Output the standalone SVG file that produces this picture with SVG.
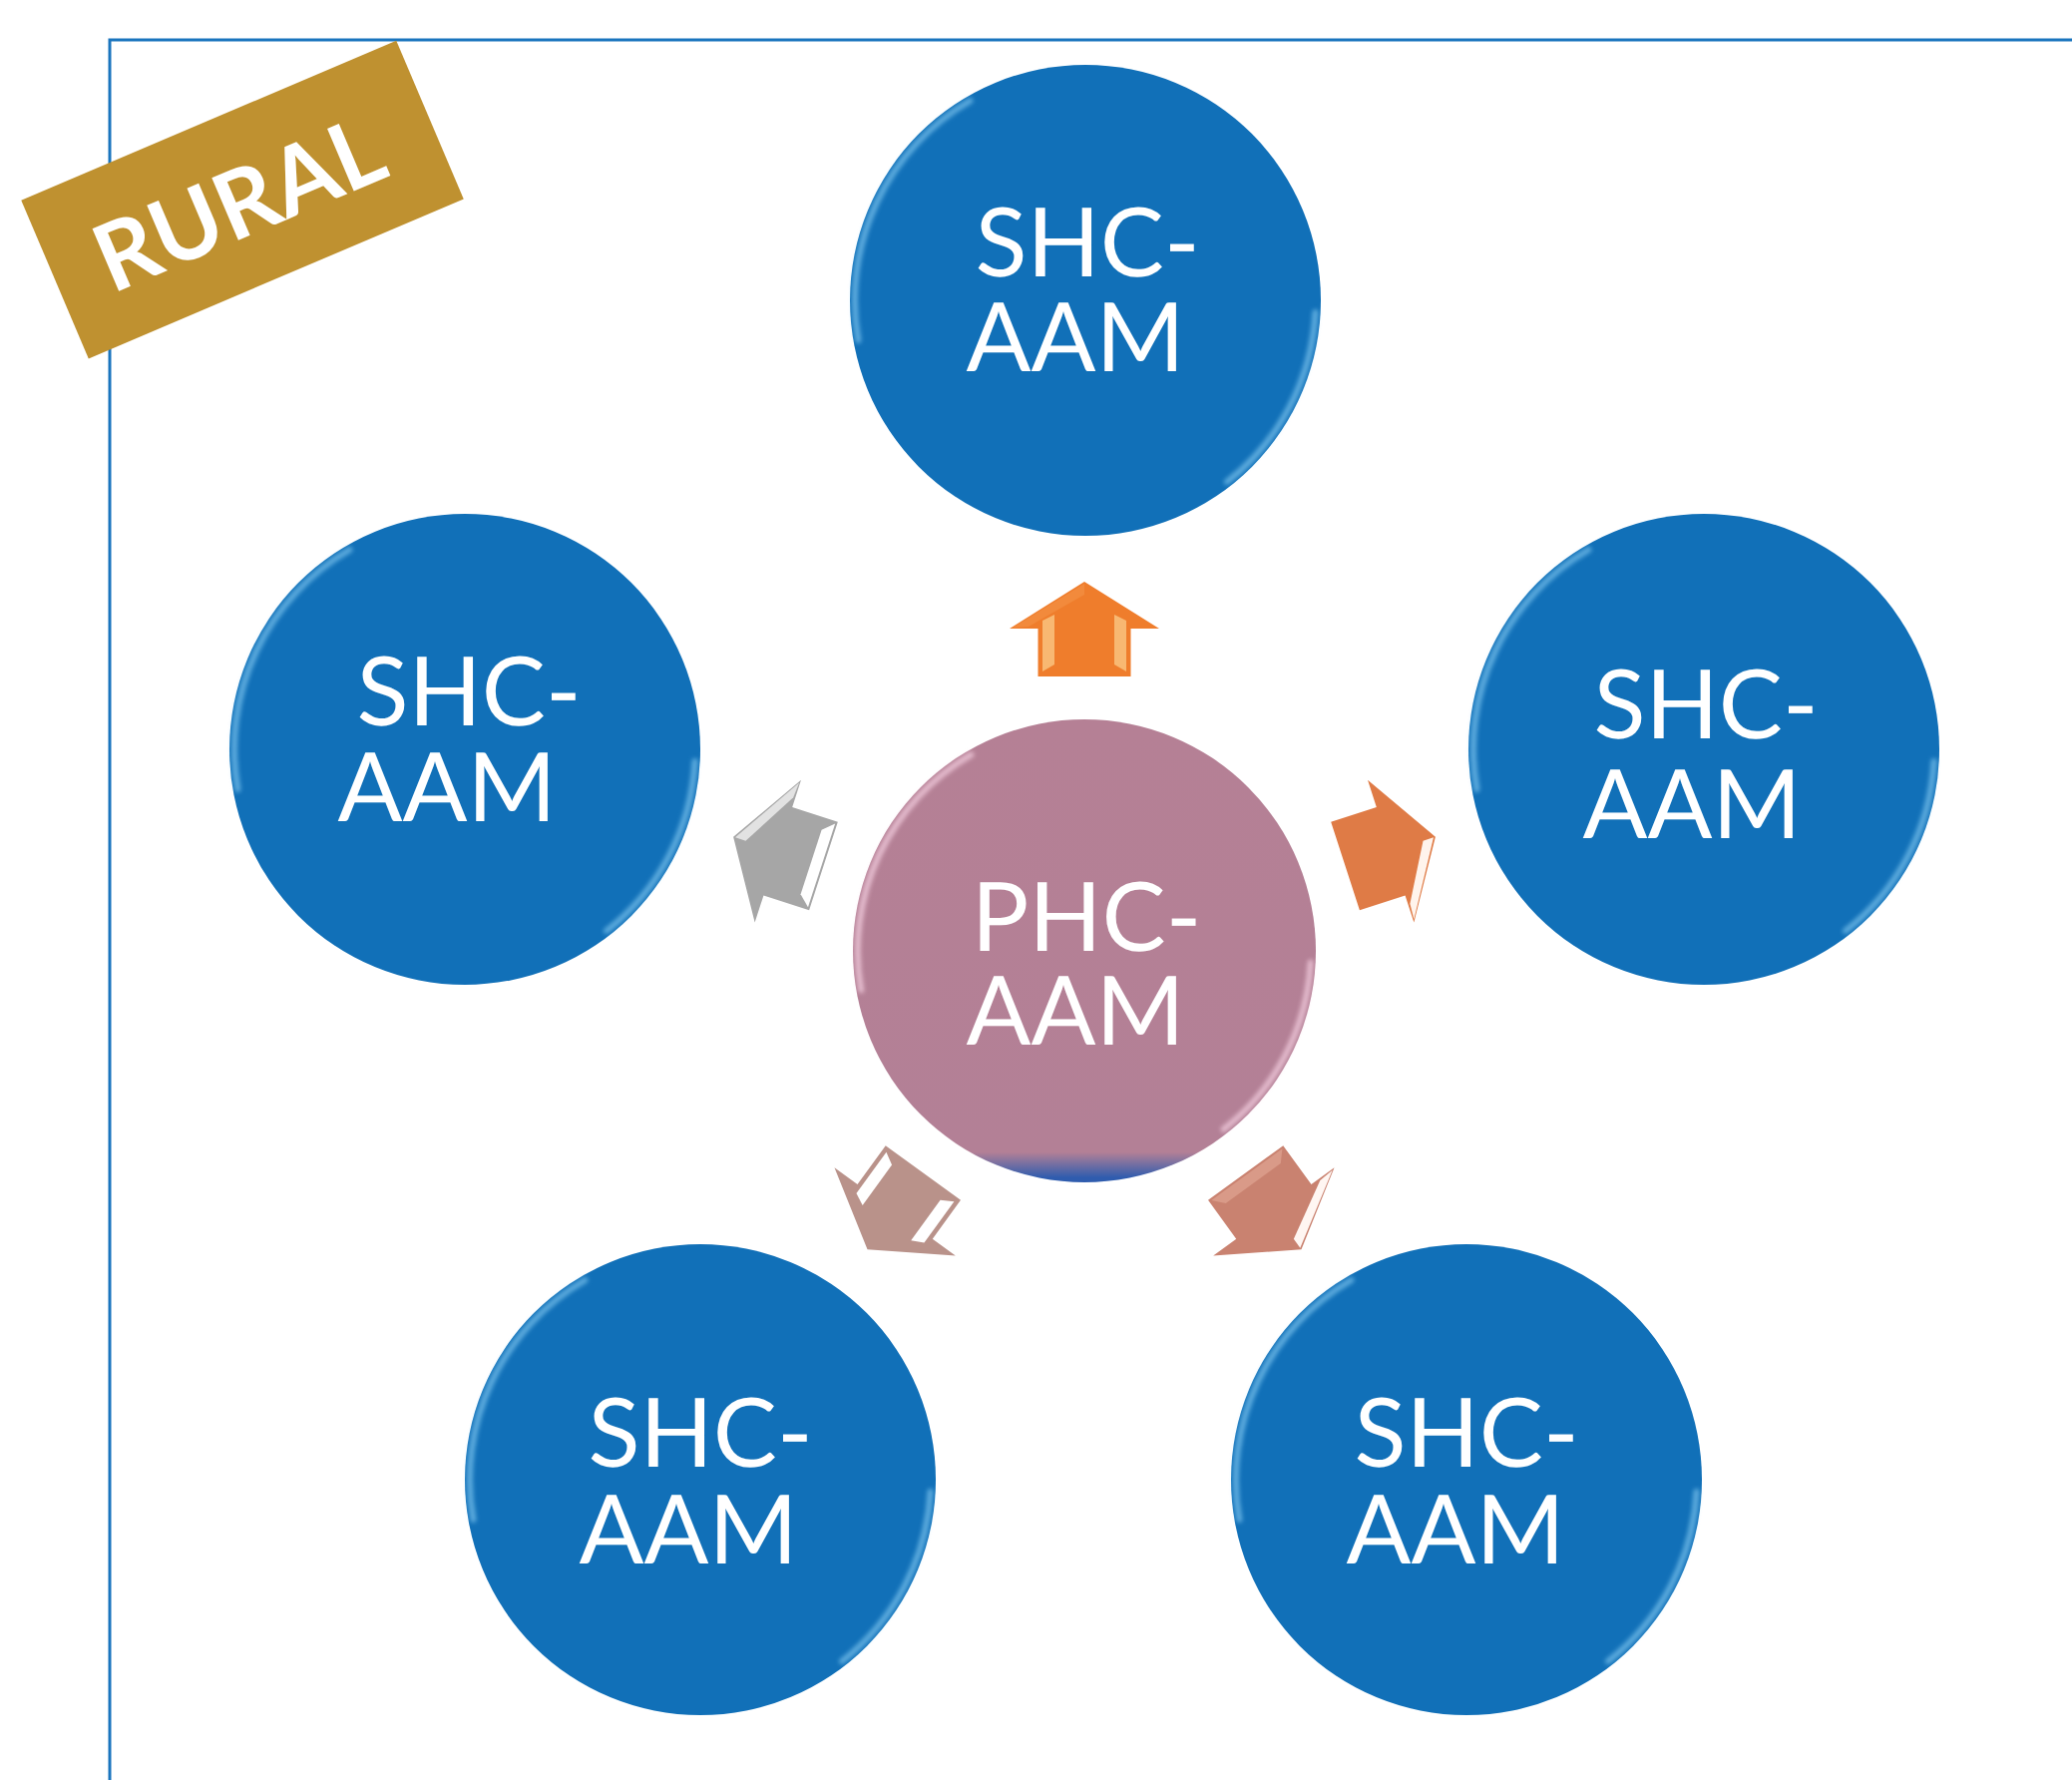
<svg xmlns="http://www.w3.org/2000/svg" xmlns:xlink="http://www.w3.org/1999/xlink" width="2077" height="1784" viewBox="0 0 2077 1784">
  <defs>
    <style>
      .frame { fill: none; stroke: #1A75BE; stroke-width: 3; }
      .shc { fill: #1170B8; }
      .phc { fill: url(#phcFill); }
      .lbl { font-family: Lato, "Open Sans", "Liberation Sans", sans-serif; font-size: 96px; fill: #FFFFFF; text-anchor: middle; text-rendering: geometricPrecision; font-kerning: none; }
      .rural { font-family: Lato, "Open Sans", "Liberation Sans", sans-serif; font-weight: bold; font-size: 94px; fill: #FFFFFF; text-anchor: middle; text-rendering: geometricPrecision; font-kerning: none; }
      .hlB { fill: none; stroke: #8FD3F7; stroke-width: 6; stroke-linecap: round; opacity: 0.6; filter: url(#soft); }
      .hlP { fill: none; stroke: #F4CFE0; stroke-width: 6; stroke-linecap: round; opacity: 0.75; filter: url(#soft); }
    </style>
    <linearGradient id="phcFill" x1="0" y1="0" x2="0" y2="1">
      <stop offset="0" stop-color="#B58095"/>
      <stop offset="0.935" stop-color="#B38096"/>
      <stop offset="0.99" stop-color="#2F5CAE"/>
    </linearGradient>
    <filter id="soft" x="-20%" y="-20%" width="140%" height="140%">
      <feGaussianBlur stdDeviation="2"/>
    </filter>
    <path id="arrow" d="M0,-370 L75,-323 L46.5,-323 L46.5,-275 L-46.5,-275 L-46.5,-323 L-75,-323 Z"/>
    <path id="bvShaftL" d="M-42,-331 L-30,-337 L-30,-287 L-42,-280 Z"/>
    <path id="bvShaftR" d="M42,-331 L30,-337 L30,-287 L42,-280 Z"/>
    <path id="bvHeadR" d="M0,-368 L72,-324 L56,-325 L0,-357 Z"/>
    <path id="bvHeadL" d="M0,-368 L-72,-324 L-56,-325 L0,-357 Z"/>
    <path id="bvBase" d="M-44,-277 L44,-277 L34,-288 L-34,-288 Z"/>
    <path id="arcUL" d="M-227.6,40.1 A231,231 0 0 1 -115.5,-200"/>
    <path id="arcLR" d="M230.6,12 A231,231 0 0 1 142,182"/>
  </defs>

  <rect x="0" y="0" width="2077" height="1784" fill="#FFFFFF"/>

  <g id="frame">
    <path class="frame" d="M110,1784 L110,40 L2077,40"/>
  </g>

  <g id="connectors">
    <g id="arrow-top" transform="translate(1087,953)">
      <use xlink:href="#arrow" fill="#EF7D2C"/>
      <use xlink:href="#bvHeadL" fill="#F28A3C"/>
      <use xlink:href="#bvShaftL" fill="#F8B872"/>
      <use xlink:href="#bvShaftR" fill="#F8B872"/>
    </g>
    <g id="arrow-right" transform="translate(1087,953) rotate(72)">
      <use xlink:href="#arrow" fill="#DF7B46"/>
      <use xlink:href="#bvHeadR" fill="#FFF4EC"/>
    </g>
    <g id="arrow-bottom-right" transform="translate(1087,953) rotate(144)">
      <use xlink:href="#arrow" fill="#C98270"/>
      <use xlink:href="#bvHeadL" fill="#FFF6F2"/>
      <use xlink:href="#bvBase" fill="#D99A88"/>
    </g>
    <g id="arrow-bottom-left" transform="translate(1087,953) rotate(216)">
      <use xlink:href="#arrow" fill="#B9928A"/>
      <use xlink:href="#bvShaftL" fill="#FFFFFF"/>
      <use xlink:href="#bvShaftR" fill="#FFFFFF"/>
    </g>
    <g id="arrow-left" transform="translate(1087,953) rotate(-72)">
      <use xlink:href="#arrow" fill="#A6A6A6"/>
      <use xlink:href="#bvHeadR" fill="#E2E2E2"/>
      <use xlink:href="#bvBase" fill="#FFFFFF"/>
    </g>
  </g>

  <g id="shc-top">
    <circle class="shc" cx="1088" cy="301" r="236"/>
    <g transform="translate(1088,301)"><use xlink:href="#arcUL" class="hlB"/><use xlink:href="#arcLR" class="hlB"/></g>
    <text class="lbl" x="1090" y="277">SHC-</text>
    <text class="lbl" x="1078" y="372">AAM</text>
  </g>

  <g id="shc-left">
    <circle class="shc" cx="466" cy="751" r="236"/>
    <g transform="translate(466,751)"><use xlink:href="#arcUL" class="hlB"/><use xlink:href="#arcLR" class="hlB"/></g>
    <text class="lbl" x="470" y="727">SHC-</text>
    <text class="lbl" x="448" y="823">AAM</text>
  </g>

  <g id="shc-right">
    <circle class="shc" cx="1708" cy="751" r="236"/>
    <g transform="translate(1708,751)"><use xlink:href="#arcUL" class="hlB"/><use xlink:href="#arcLR" class="hlB"/></g>
    <text class="lbl" x="1710" y="740">SHC-</text>
    <text class="lbl" x="1696" y="840">AAM</text>
  </g>

  <g id="shc-bottom-left">
    <circle class="shc" cx="702" cy="1483" r="236"/>
    <g transform="translate(702,1483)"><use xlink:href="#arcUL" class="hlB"/><use xlink:href="#arcLR" class="hlB"/></g>
    <text class="lbl" x="702" y="1470">SHC-</text>
    <text class="lbl" x="690" y="1567">AAM</text>
  </g>

  <g id="shc-bottom-right">
    <circle class="shc" cx="1470" cy="1483" r="236"/>
    <g transform="translate(1470,1483)"><use xlink:href="#arcUL" class="hlB"/><use xlink:href="#arcLR" class="hlB"/></g>
    <text class="lbl" x="1470" y="1470">SHC-</text>
    <text class="lbl" x="1459" y="1567">AAM</text>
  </g>

  <g id="phc-center">
    <circle class="phc" cx="1087" cy="953" r="232"/>
    <g transform="translate(1087,953) scale(0.983)"><use xlink:href="#arcUL" class="hlP"/><use xlink:href="#arcLR" class="hlP"/></g>
    <text class="lbl" x="1089" y="953">PHC-</text>
    <text class="lbl" x="1078" y="1047">AAM</text>
  </g>

  <g id="rural-banner" transform="rotate(-23.05 243 200)">
    <rect x="38.7" y="113.8" width="408.6" height="172.5" fill="#BF9130"/>
    <text class="rural" x="238" y="236">RURAL</text>
  </g>
</svg>
